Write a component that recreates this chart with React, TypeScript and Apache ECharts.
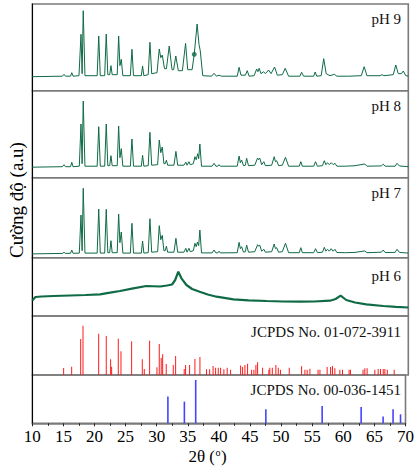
import React, { useEffect, useRef } from "react";
import * as echarts from "echarts";

// 2θ range and ticks
const X_MIN = 10;
const X_MAX = 70;
const X_STEP = 5;

// Panel labels
const panelLabels = ["pH 9", "pH 8", "pH 7", "pH 6", "JCPDS No. 01-072-3911", "JCPDS No. 00-036-1451"];

// XRD patterns: [2θ, intensity (a.u.)]
const ph9: number[][] = [
  [10, 14], [14.8, 14.5], [15.06, 16.4], [15.3, 14.5], [16.1, 14.5], [16.3, 18], [16.5, 14.5], [17.45, 15],
  [17.77, 56.4], [17.95, 17], [18.13, 80], [18.4, 15], [20.35, 15], [20.6, 54.7], [20.85, 15], [21.55, 15],
  [21.8, 56.7], [22.05, 16], [22.35, 16], [22.55, 25], [22.75, 16], [23.55, 16], [23.78, 54.7], [23.98, 25],
  [24.2, 31.4], [24.45, 15], [25.65, 15], [25.9, 41.4], [26.15, 15], [27.4, 15], [27.6, 24.7], [27.8, 15],
  [28.5, 16], [28.77, 48.4], [29.05, 17], [29.9, 18], [30.26, 41.7], [30.5, 33], [30.74, 35.7], [31.1, 22],
  [31.4, 22], [31.85, 44.7], [32.3, 21], [32.55, 21], [32.9, 34.7], [33.3, 20], [33.95, 20], [34.46, 47.4],
  [34.8, 21], [35.5, 21], [35.84, 36.4], [36.3, 66.7], [36.6, 46.4], [36.8, 40], [37.2, 15], [38.6, 14.5],
  [39.0, 17.4], [39.4, 14.5], [39.8, 15.5], [40.2, 14.5], [42.7, 14.5], [43.0, 23.4], [43.3, 15.5], [44.0, 15.5],
  [44.3, 20], [44.6, 14.5], [45.4, 15], [45.8, 21.7], [46.0, 19], [46.2, 22.4], [46.5, 17], [46.9, 19],
  [47.2, 17], [47.7, 20.7], [48.1, 17], [48.66, 23.7], [49.1, 15.5], [49.9, 16], [50.35, 22.4], [50.9, 14.5],
  [52.7, 14.5], [52.97, 18.4], [53.3, 14.5], [54.9, 14.5], [55.14, 18.7], [55.4, 14.5], [56.1, 15], [56.5, 32],
  [56.9, 17], [57.5, 15], [58.2, 16.4], [58.6, 14.5], [60.5, 14.5], [62.5, 15], [62.96, 24], [63.4, 15],
  [65.5, 15], [65.8, 16], [66.1, 15], [67.6, 16], [68.0, 25.7], [68.4, 17], [68.9, 17], [69.2, 19.7],
  [69.6, 15], [70, 14.7],
];

const ph9Marker: number[][] = [[35.84, 36.4]];

const ph8: number[][] = [
  [10, 10.5], [14.8, 11], [15.06, 13], [15.3, 11], [16.1, 11], [16.3, 15.4], [16.5, 11], [17.5, 11.5],
  [17.77, 53.7], [17.95, 14], [18.13, 76.7], [18.4, 11.5], [20.35, 11.5], [20.6, 51], [20.85, 11.5],
  [21.55, 11.5], [21.8, 53.7], [22.05, 12], [22.35, 12], [22.55, 22], [22.75, 12], [23.55, 12], [23.78, 51.7],
  [23.98, 20], [24.2, 29], [24.45, 11.5], [25.65, 11.5], [25.9, 38.7], [26.15, 11.5], [27.4, 11.5],
  [27.6, 22.4], [27.8, 11.5], [28.5, 12], [28.77, 45.4], [29.05, 12.5], [30.0, 13], [30.26, 37.7], [30.5, 25],
  [30.74, 30.7], [31.0, 14], [31.2, 14], [31.4, 17.5], [31.6, 12.5], [32.6, 12.5], [32.92, 26.3], [33.2, 12.5],
  [34.2, 12.5], [34.5, 15.5], [34.7, 12.5], [34.8, 12.5], [35.0, 16], [35.2, 13], [35.7, 14], [35.95, 21],
  [36.15, 18], [36.4, 24], [36.55, 19], [36.74, 33.7], [37.0, 11.5], [38.7, 11.5], [39.0, 14.4], [39.3, 11.5],
  [39.6, 11.5], [39.8, 13], [40.0, 11.5], [42.7, 11.5], [43.0, 21.7], [43.2, 15], [43.4, 17.7], [43.7, 12],
  [44.0, 12.5], [44.2, 19.4], [44.5, 12], [45.5, 12.5], [45.95, 19.7], [46.1, 18], [46.3, 19.5], [46.6, 13],
  [46.95, 16], [47.2, 12], [48.2, 12.5], [48.6, 21], [48.8, 16], [49.0, 17], [49.3, 12], [49.9, 12.5],
  [50.4, 20.4], [50.9, 11.5], [52.6, 11.5], [52.85, 16], [53.1, 11.5], [54.9, 11.5], [55.2, 16], [55.5, 11.5],
  [56.3, 12], [56.6, 17], [56.85, 13], [57.1, 15], [57.4, 13], [57.7, 15], [58.0, 13], [58.3, 14.4],
  [58.6, 11.5], [60, 11.5], [61.5, 12], [63.06, 13.7], [63.4, 11.5], [65.7, 11.8], [66.0, 13.5], [66.3, 11.5],
  [67.9, 11.5], [68.2, 14.4], [68.6, 11.7], [70, 11],
];

const ph7: number[][] = [
  [10, 3.8], [14.8, 4.3], [15.06, 5.4], [15.3, 4.3], [16.1, 4.4], [16.3, 7.7], [16.5, 4.4], [17.5, 4.6],
  [17.77, 42.7], [17.95, 7], [18.13, 69.4], [18.4, 4.6], [20.35, 4.6], [20.6, 48.7], [20.85, 4.6], [21.55, 4.6],
  [21.8, 48.4], [22.05, 5], [22.35, 5], [22.55, 17], [22.75, 5], [23.55, 5], [23.78, 43.7], [23.98, 15],
  [24.2, 25.7], [24.45, 4.6], [25.65, 4.6], [25.9, 34.4], [26.15, 4.6], [27.4, 4.6], [27.6, 16.7], [27.8, 4.6],
  [28.5, 5], [28.77, 39], [29.05, 5.5], [30.0, 6], [30.26, 32], [30.5, 18], [30.74, 22.4], [31.0, 7],
  [31.2, 7], [31.4, 11.5], [31.6, 5.5], [32.6, 5.5], [32.92, 19.4], [33.2, 5.5], [34.2, 5.5], [34.5, 9.4],
  [34.7, 5.5], [34.8, 5.5], [35.0, 9.4], [35.2, 6], [35.7, 7], [35.95, 14.4], [36.15, 11], [36.35, 15.7],
  [36.55, 12], [36.74, 27.7], [37.0, 4.8], [38.7, 4.8], [39.0, 7.7], [39.3, 4.8], [39.6, 4.8], [39.8, 6.5],
  [40.0, 4.8], [42.7, 5], [43.0, 15.4], [43.2, 9], [43.4, 11], [43.7, 5.5], [44.0, 6], [44.2, 12.7],
  [44.5, 5.5], [45.5, 6], [45.95, 13], [46.1, 11.5], [46.3, 12.5], [46.6, 6.5], [46.95, 8.4], [47.2, 5.5],
  [48.2, 6], [48.6, 13.7], [48.8, 9], [49.0, 10], [49.3, 5.5], [49.9, 6], [50.4, 14.4], [50.9, 5],
  [52.6, 5], [52.85, 10], [53.1, 5], [54.9, 5], [55.2, 9], [55.5, 5], [56.3, 5.5], [56.6, 10.4],
  [56.85, 6.5], [57.1, 8.4], [57.4, 6.5], [57.7, 9], [58.0, 6.5], [58.3, 8.4], [58.6, 5.2], [60, 5],
  [61.5, 5.3], [63.06, 6.8], [63.4, 5], [65.7, 5.5], [66.0, 7.7], [66.3, 5.2], [67.9, 5.3], [68.2, 8.4],
  [68.6, 5.3], [70, 4.6],
];

const ph6: number[][] = [
  [10, 15.5], [10.5, 19], [11.5, 19.5], [13.4, 20], [16, 20.5], [18.5, 21], [20.8, 21.7], [22.4, 23.3],
  [24, 25], [26.1, 27.7], [28.2, 30], [30.4, 29.5], [31.5, 30.5], [32.3, 31.5], [32.8, 36], [33.3, 44.3],
  [33.8, 37.7], [34.6, 31], [35.5, 27], [36.7, 24.3], [38, 21.5], [39.4, 19.3], [42.1, 16.7], [44.5, 15.7],
  [47.4, 15], [50, 14.5], [52.7, 14.3], [55, 14.5], [57.5, 15.3], [58.4, 17], [59.2, 20.3], [60.1, 16],
  [61.5, 13.5], [63.3, 11.7], [66, 10], [68, 9.2], [70, 8.5],
];

// Reference patterns: [2θ, relative intensity]
const jcpds0723911: number[][] = [
  [15.0, 7], [16.28, 8.3], [17.72, 36], [18.09, 49.3], [20.59, 41.3], [21.8, 39], [22.5, 15.7], [22.66, 8.3],
  [23.72, 36.3], [24.15, 23.7], [25.85, 33.7], [27.55, 15.7], [27.87, 6], [28.72, 34.3], [29.89, 7.7],
  [30.26, 31], [30.57, 17], [30.8, 20.7], [31.37, 11], [32.49, 10], [32.87, 19], [34.24, 6], [34.46, 10],
  [35.1, 10], [35.95, 16], [36.75, 18], [37.8, 5.7], [38.3, 5.7], [38.85, 9], [39.25, 7.3], [39.67, 7.3],
  [40.05, 7.3], [40.57, 5.7], [41.1, 7.3], [41.64, 5.3], [43.24, 9.4], [43.56, 8], [43.93, 10], [44.35, 11.3],
  [44.99, 5.3], [45.36, 5.3], [45.68, 10], [45.95, 12.7], [46.75, 7.3], [47.75, 5.3], [47.9, 7.3], [48.3, 7.3],
  [48.87, 10], [49.25, 7.3], [49.6, 5.3], [51.0, 7.3], [52.97, 8.7], [53.5, 5.3], [53.86, 5.3], [54.3, 6.3],
  [55.6, 5.3], [55.9, 5.3], [57.05, 8], [57.6, 8], [57.9, 9], [58.28, 6.7], [59.08, 5.3], [59.5, 5.3],
  [60.55, 5.3], [60.77, 5.3], [62.78, 5.3], [63.06, 6.7], [63.43, 6.7], [64.66, 5.3], [65.19, 6], [65.57, 6],
  [66.0, 6], [66.26, 6], [66.65, 5.3], [67.75, 5.3],
];

const jcpds0361451: number[][] = [
  [31.8, 26.7], [34.45, 21.7], [36.27, 43.3], [47.55, 14], [56.6, 17.3], [62.87, 16.3], [66.4, 6.7],
  [68.0, 14], [69.2, 9],
];

const FONT = '"Liberation Serif", "Times New Roman", serif';
const GREEN = "#0f6a46";

export default function App() {
  const ref = useRef<HTMLDivElement>(null);

  useEffect(() => {
    if (!ref.current) return;
    const chart = echarts.init(ref.current, undefined, { renderer: "svg" });

    const left = 32.3;
    const right = 417 - 408.3;
    const panels = [
      { top: 4, h: 86.7 },
      { top: 90.7, h: 87 },
      { top: 177.7, h: 80 },
      { top: 257.7, h: 58.3 },
      { top: 316, h: 59 },
      { top: 375, h: 48.3 },
    ];
    const last = panels.length - 1;

    const grid = panels.map((p) => ({
      left,
      right,
      top: p.top,
      height: p.h,
      show: true,
      borderColor: "#7a7a7a",
      borderWidth: 1.6,
      backgroundColor: "transparent",
    }));

    const xAxis = panels.map((p, i) => ({
      type: "value",
      gridIndex: i,
      min: X_MIN,
      max: X_MAX,
      interval: X_STEP,
      splitLine: { show: false },
      axisLine: { show: i === last, onZero: false, lineStyle: { color: "#7a7a7a", width: 1.6 } },
      axisTick: { show: i === last, length: 3, lineStyle: { color: "#222", width: 1 } },
      minorTick: { show: i === last, splitNumber: 2, length: 2.5, lineStyle: { color: "#222", width: 1 } },
      axisLabel: {
        show: i === last,
        fontFamily: FONT,
        fontSize: 17,
        color: "#000",
        margin: 5,
      },
    }));

    const yAxis = panels.map((p, i) => ({
      type: "value",
      gridIndex: i,
      min: 0,
      max: p.h,
      splitLine: { show: false },
      axisTick: { show: false },
      axisLabel: { show: false },
      axisLine: { show: true, onZero: false, lineStyle: { color: "#000", width: 1 } },
    }));

    const lineSeries = (data: number[][], idx: number, width: number) => ({
      type: "line",
      xAxisIndex: idx,
      yAxisIndex: idx,
      data,
      symbol: "none",
      lineStyle: { color: GREEN, width },
      silent: true,
    });

    const series: any[] = [
      lineSeries(ph9, 0, 1),
      {
        type: "scatter",
        xAxisIndex: 0,
        yAxisIndex: 0,
        data: ph9Marker,
        symbol: "circle",
        symbolSize: 5,
        itemStyle: { color: GREEN },
      },
      lineSeries(ph8, 1, 1),
      lineSeries(ph7, 2, 1),
      lineSeries(ph6, 3, 2.2),
      {
        type: "bar",
        xAxisIndex: 4,
        yAxisIndex: 4,
        data: jcpds0723911,
        barWidth: 1,
        itemStyle: { color: "#ff1a1a" },
      },
      {
        type: "bar",
        xAxisIndex: 5,
        yAxisIndex: 5,
        data: jcpds0361451,
        barWidth: 1.6,
        itemStyle: { color: "#4444ff" },
      },
    ];

    const labelY = [19, 106, 193, 276, 331.5, 390];
    const graphic: any[] = panelLabels.map((t, i) => ({
      type: "text",
      z: 100,
      style: {
        text: t,
        x: 401,
        y: labelY[i],
        align: "right",
        verticalAlign: "middle",
        font: `15px ${FONT}`,
        fill: "#111",
      },
    }));
    graphic.push({
      type: "text",
      z: 100,
      x: 16,
      y: 200,
      rotation: Math.PI / 2,
      style: {
        text: "Cường độ (a.u)",
        x: 0,
        y: 0,
        align: "center",
        verticalAlign: "middle",
        font: `19px ${FONT}`,
        fill: "#000",
      },
    });
    // x-axis title: "2θ (°)" with a raised small "o"
    graphic.push({
      type: "text",
      z: 100,
      style: { text: "2θ (", x: 215, y: 456, align: "right", verticalAlign: "middle", font: `17px ${FONT}`, fill: "#000" },
    });
    graphic.push({
      type: "text",
      z: 100,
      style: { text: "o", x: 215.5, y: 452, align: "left", verticalAlign: "middle", font: `10px ${FONT}`, fill: "#000" },
    });
    graphic.push({
      type: "text",
      z: 100,
      style: { text: ")", x: 221, y: 456, align: "left", verticalAlign: "middle", font: `17px ${FONT}`, fill: "#000" },
    });

    chart.setOption({
      animation: false,
      backgroundColor: "#fff",
      grid,
      xAxis,
      yAxis,
      series,
      graphic,
    });

    return () => chart.dispose();
  }, []);

  return (
    <div
      ref={ref}
      style={{ position: "absolute", left: 0, top: 0, width: 417, height: 468 }}
    />
  );
}
